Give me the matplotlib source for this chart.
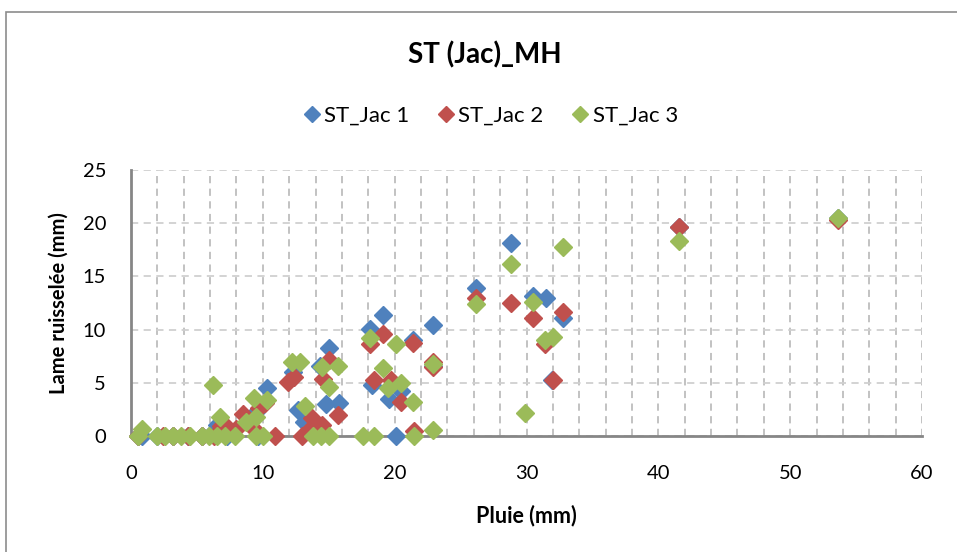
import matplotlib
matplotlib.use("Agg")
import matplotlib.pyplot as plt
from matplotlib.patches import Rectangle
from matplotlib.ticker import MultipleLocator

plt.rcParams['font.family'] = ['Lato', 'DejaVu Sans']

title = "ST (Jac)_MH"
xlabel = "Pluie (mm)"
ylabel = "Lame ruisselée (mm)"
series_names = ["ST_Jac 1", "ST_Jac 2", "ST_Jac 3"]
colors = ["#4F81BD", "#C0504D", "#9BBB59"]

jac1_x = [0.5, 0.8, 2.0, 3.2, 4.3, 5.4, 6.5, 6.3, 7.3, 9.5, 10.3, 9.6, 12.3, 12.7, 13.1,
          14.3, 14.8, 15.0, 15.8, 18.1, 18.3, 19.1, 19.6, 20.1, 20.5, 21.4, 22.9, 22.9,
          26.2, 28.8, 30.5, 31.5, 32.8, 31.9, 41.6, 53.6]
jac1_y = [0, 0, 0, 0, 0, 0, 1.0, 0.5, 0, 2.3, 4.5, 0, 6.0, 2.4, 1.3,
          6.6, 3.0, 8.3, 3.1, 10.1, 4.8, 11.4, 3.5, 0, 4.2, 9.0, 10.4, 6.6,
          13.9, 18.1, 13.2, 13.0, 11.1, 5.3, 19.6, 20.5]

jac2_x = [0.5, 2.4, 3.2, 4.3, 5.4, 6.3, 6.8, 7.3, 8.0, 8.5, 9.4, 9.7, 10.2, 10.9, 11.9,
          12.4, 13.0, 13.6, 13.7, 14.5, 14.6, 15.0, 15.7, 18.1, 18.4, 19.1, 19.7, 20.5,
          21.4, 21.5, 22.9, 22.9, 26.2, 28.8, 30.5, 31.4, 32.0, 32.8, 41.6, 53.6]
jac2_y = [0, 0, 0, 0, 0, 0, 0.9, 0.8, 0.7, 2.1, 0.6, 2.6, 3.1, 0, 5.1,
          5.5, 0, 0.7, 1.7, 1.0, 5.4, 7.1, 2.0, 8.6, 5.3, 9.6, 5.3, 3.2,
          8.7, 0.5, 7.0, 6.5, 13.0, 12.5, 11.1, 8.6, 5.3, 11.7, 19.6, 20.3]

jac3_x = [0.55, 0.8, 1.95, 2.6, 3.2, 3.8, 4.5, 5.4, 5.9, 6.2, 6.5, 6.75, 7.1, 7.9, 8.7,
          9.3, 9.5, 9.5, 10.0, 10.3, 12.2, 12.8, 13.2, 13.8, 14.4, 15.0, 14.5, 15.0,
          15.7, 17.6, 18.1, 18.4, 19.1, 19.5, 20.1, 20.5, 21.4, 21.5, 22.9, 22.9,
          26.2, 28.8, 29.9, 30.5, 31.4, 32.0, 32.8, 41.6, 53.6]
jac3_y = [0, 0.7, 0, 0, 0, 0, 0, 0, 0, 4.8, 0, 1.8, 0, 0, 1.3,
          3.6, 1.8, 0, 0, 3.4, 7.0, 7.0, 2.8, 0, 0, 0, 6.5, 4.6,
          6.6, 0, 9.2, 0, 6.4, 4.5, 8.6, 5.0, 3.2, 0, 6.8, 0.6,
          12.4, 16.2, 2.2, 12.6, 9.0, 9.3, 17.8, 18.3, 20.5]

xs = [jac1_x, jac2_x, jac3_x]
ys = [jac1_y, jac2_y, jac3_y]

W, H = 957, 552
fig = plt.figure(figsize=(W / 100, H / 100), dpi=100)
fig.patch.set_facecolor("white")

# chart area border
fig.add_artist(Rectangle((6 / W, -0.05), 1.2, (H - 12) / H + 0.05, transform=fig.transFigure,
                         fill=False, edgecolor="#8C8C8C", linewidth=1.2))

ax = fig.add_axes([131 / W, 1 - 436 / H, (922 - 131) / W, (436 - 170) / H])

for x, y, c, n in zip(xs, ys, colors, series_names):
    ax.plot(x, y, linestyle="none", marker="D", markersize=9.5, color=c,
            markeredgecolor=c, label=n, clip_on=False, zorder=3)

ax.set_xlim(0, 60)
ax.set_ylim(0, 25)
ax.xaxis.set_major_locator(MultipleLocator(10))
ax.xaxis.set_minor_locator(MultipleLocator(2))
ax.yaxis.set_major_locator(MultipleLocator(5))
ax.grid(which="minor", axis="x", color="#BDBDBD", linestyle=(0, (4, 3)), linewidth=1.3)
ax.grid(which="major", axis="x", color="#BDBDBD", linestyle=(0, (4, 3)), linewidth=1.3)
ax.grid(which="major", axis="y", color="#D0D0D0", linestyle=(0, (4, 3)), linewidth=1.3)
ax.set_axisbelow(True)

for s in ["top", "right"]:
    ax.spines[s].set_visible(False)
for s in ["left", "bottom"]:
    ax.spines[s].set_color("#868686")
    ax.spines[s].set_linewidth(2)

ax.tick_params(which="both", length=0, labelsize=14.5, colors="black")
ax.tick_params(axis="x", pad=21)
ax.tick_params(axis="y", pad=18)

ax.set_xlabel(xlabel, fontsize=15.5, fontweight="bold", labelpad=16)
ax.set_ylabel(ylabel, fontsize=14.5, fontweight="bold", labelpad=10)

fig.text(485 / W, 1 - 55 / H, title, ha="center", va="center", fontsize=20, fontweight="bold")

leg = fig.legend(loc="center", bbox_to_anchor=(490 / W, 1 - 116 / H), ncol=3, frameon=False,
                 fontsize=16, handletextpad=0.1, columnspacing=1.2, handlelength=0.9,
                 markerscale=0.85)

fig.savefig("out.png", dpi=100)
